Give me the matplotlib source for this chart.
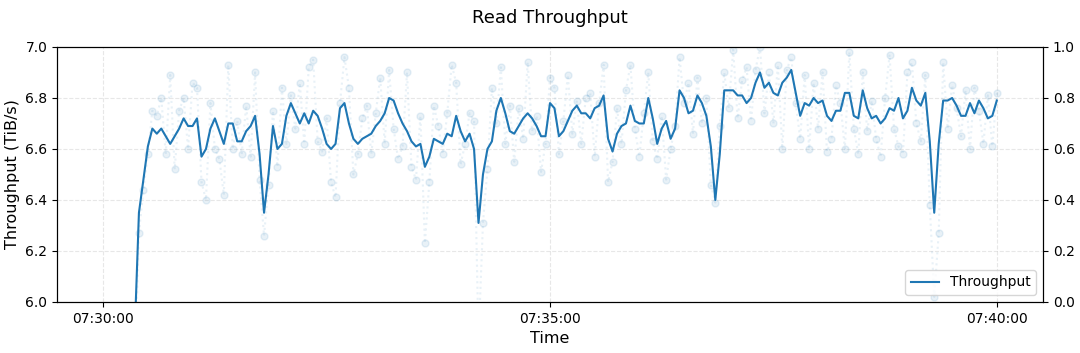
import pandas as pd
import matplotlib
matplotlib.use("Agg")
import matplotlib.pyplot as plt
import matplotlib.dates as mdates

# samples every 3 s starting at 07:30:21
start_time = "2024-01-01 07:30:21"
step = "3s"

# smoothed throughput (TiB/s)
smooth = [
    5.85, 6.35, 6.48, 6.61, 6.68, 6.66, 6.68, 6.65, 6.62, 6.65,
    6.68, 6.72, 6.69, 6.69, 6.72, 6.57, 6.60, 6.68, 6.72, 6.67,
    6.62, 6.70, 6.70, 6.63, 6.63, 6.67, 6.69, 6.73, 6.58, 6.35,
    6.50, 6.69, 6.60, 6.62, 6.73, 6.78, 6.74, 6.70, 6.74, 6.70,
    6.75, 6.73, 6.68, 6.62, 6.60, 6.62, 6.76, 6.78, 6.70, 6.64,
    6.62, 6.64, 6.65, 6.66, 6.69, 6.71, 6.74, 6.80, 6.79, 6.74,
    6.70, 6.67, 6.63, 6.61, 6.62, 6.53, 6.57, 6.64, 6.63, 6.62,
    6.66, 6.65, 6.73, 6.67, 6.63, 6.66, 6.60, 6.31, 6.50, 6.60,
    6.63, 6.75, 6.80, 6.74, 6.67, 6.66, 6.69, 6.72, 6.74, 6.72,
    6.69, 6.65, 6.65, 6.78, 6.76, 6.65, 6.67, 6.71, 6.75, 6.77,
    6.74, 6.74, 6.72, 6.76, 6.77, 6.81, 6.64, 6.59, 6.66, 6.69,
    6.70, 6.77, 6.71, 6.70, 6.70, 6.80, 6.72, 6.62, 6.68, 6.71,
    6.64, 6.68, 6.83, 6.80, 6.74, 6.75, 6.81, 6.78, 6.73, 6.61,
    6.40, 6.58, 6.83, 6.83, 6.83, 6.81, 6.81, 6.78, 6.80, 6.86,
    6.90, 6.84, 6.86, 6.82, 6.81, 6.86, 6.88, 6.91, 6.82, 6.73,
    6.78, 6.77, 6.80, 6.78, 6.79, 6.73, 6.71, 6.75, 6.75, 6.82,
    6.82, 6.73, 6.72, 6.83, 6.76, 6.72, 6.73, 6.70, 6.72, 6.76,
    6.75, 6.80, 6.72, 6.75, 6.84, 6.79, 6.77, 6.82, 6.63, 6.35,
    6.62, 6.79, 6.79, 6.80, 6.77, 6.73, 6.73, 6.78, 6.74, 6.79,
    6.76, 6.72, 6.73, 6.79,
]

# raw samples (TiB/s)
raw = [
    5.70, 6.27, 6.44, 6.58, 6.75, 6.73, 6.80, 6.58, 6.89, 6.52,
    6.75, 6.80, 6.60, 6.86, 6.84, 6.47, 6.40, 6.78, 6.60, 6.56,
    6.42, 6.93, 6.60, 6.71, 6.58, 6.77, 6.57, 6.90, 6.48, 6.26,
    6.46, 6.75, 6.53, 6.84, 6.62, 6.81, 6.68, 6.86, 6.62, 6.92,
    6.95, 6.63, 6.59, 6.72, 6.47, 6.41, 6.78, 6.96, 6.84, 6.50,
    6.58, 6.72, 6.77, 6.58, 6.74, 6.88, 6.62, 6.91, 6.68, 6.56,
    6.61, 6.90, 6.53, 6.48, 6.73, 6.23, 6.47, 6.77, 6.69, 6.58,
    6.74, 6.93, 6.86, 6.54, 6.62, 6.74, 6.71, 5.85, 6.31, 6.52,
    6.84, 6.70, 6.92, 6.62, 6.77, 6.55, 6.76, 6.64, 6.94, 6.67,
    6.73, 6.51, 6.62, 6.88, 6.84, 6.58, 6.71, 6.89, 6.66, 6.79,
    6.62, 6.80, 6.82, 6.57, 6.78, 6.93, 6.47, 6.55, 6.76, 6.62,
    6.83, 6.93, 6.68, 6.57, 6.74, 6.90, 6.63, 6.56, 6.73, 6.48,
    6.60, 6.69, 6.96, 6.78, 6.86, 6.66, 6.88, 6.70, 6.80, 6.46,
    6.39, 6.69, 6.90, 6.76, 6.99, 6.72, 6.87, 6.92, 6.71, 6.91,
    7.00, 6.74, 6.90, 6.70, 6.93, 6.60, 6.91, 6.96, 6.78, 6.64,
    6.89, 6.60, 6.86, 6.68, 6.90, 6.59, 6.64, 6.85, 6.78, 6.60,
    6.98, 6.68, 6.58, 6.90, 6.67, 6.79, 6.64, 6.57, 6.80, 6.97,
    6.68, 6.61, 6.58, 6.90, 6.94, 6.70, 6.63, 6.89, 6.38, 6.02,
    6.27, 6.94, 6.68, 6.85, 6.76, 6.65, 6.83, 6.60, 6.84, 6.75,
    6.62, 6.81, 6.61, 6.82,
]

times = pd.date_range(start_time, periods=len(smooth), freq=step)

fig, ax = plt.subplots(figsize=(10.8, 3.53), dpi=100)
fig.subplots_adjust(left=0.0528, right=0.9657, bottom=0.1445, top=0.8669)

# raw points, faint
ax.plot(times, raw, marker='o', linestyle=':', color='#1f77b4', alpha=0.1,
        markersize=5, linewidth=1.5)
ax.plot(times, smooth, color='#1f77b4', linewidth=1.5, label='Throughput')

ax.set_ylim(6.0, 7.0)
ax.set_xlim(pd.Timestamp("2024-01-01 07:29:29"), pd.Timestamp("2024-01-01 07:40:31"))
ax.xaxis.set_major_locator(mdates.MinuteLocator(byminute=[30, 35, 40]))
ax.xaxis.set_major_formatter(mdates.DateFormatter('%H:%M:%S'))
ax.grid(True, linestyle='--', alpha=0.3)

ax.set_xlabel('Time', fontsize=11.5)
ax.set_ylabel('Throughput (TiB/s)', fontsize=11.5)
ax.set_title('Read Throughput', fontsize=13, pad=17)
ax.legend(loc='lower right')

ax2 = ax.twinx()
ax2.set_ylim(0, 1)

plt.savefig('out.png', dpi=100)
